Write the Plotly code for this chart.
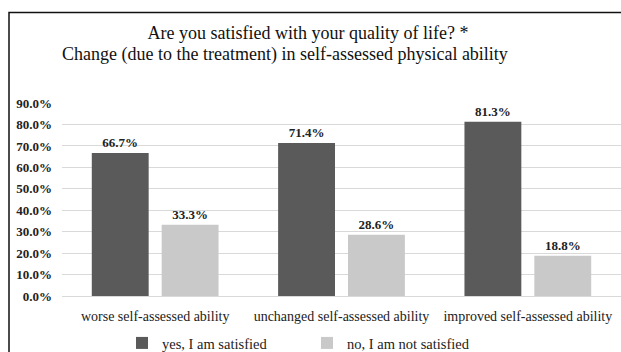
import plotly.graph_objects as go

categories = ["worse self-assessed ability", "unchanged self-assessed ability", "improved self-assessed ability"]
satisfied = [0.667, 0.714, 0.813]
not_satisfied = [0.333, 0.286, 0.188]
series_names = ["yes, I am satisfied", "no, I am not satisfied"]
title_line1 = "Are you satisfied with your quality of life? *"
title_line2 = "Change (due to the treatment) in self-assessed physical ability"
tick_vals = [i / 10 for i in range(10)]

SERIF = "Liberation Serif, Times New Roman, serif"
W, H = 621, 352
L, R, T, B = 62, 0, 103, 56
pw, ph = W - L - R, H - T - B

def px_x(x):
    return (x - L) / pw

def px_y(y):
    return (H - B - y) / ph

label_font = dict(family=SERIF, size=13, color="#222222", weight="bold")

fig = go.Figure()
fig.add_trace(go.Bar(
    x=categories, y=satisfied, name=series_names[0],
    marker=dict(color="#5a5a5a", line=dict(width=0)),
    texttemplate="%{y:.1%}", textposition="outside", cliponaxis=False,
    textfont=label_font,
))
fig.add_trace(go.Bar(
    x=categories, y=not_satisfied, name=series_names[1],
    marker=dict(color="#c9c9c9", line=dict(width=0)),
    texttemplate="%{y:.1%}", textposition="outside", cliponaxis=False,
    textfont=label_font,
))

fig.update_layout(
    width=W, height=H,
    margin=dict(l=L, r=R, t=T, b=B, pad=0, autoexpand=False),
    paper_bgcolor="white", plot_bgcolor="white",
    barmode="group", bargap=0.25, bargroupgap=0.186,
    font=dict(family=SERIF, color="#222222"),
    showlegend=True,
    title=dict(text=title_line1, xref="container", yref="container",
               x=308 / W, xanchor="center", y=1 - 33 / H, yanchor="middle",
               font=dict(family=SERIF, size=18, color="#111111")),
    legend=dict(
        orientation="h", xref="container", yref="container",
        x=122 / W, xanchor="left",
        y=1 - 343 / H, yanchor="middle",
        font=dict(family=SERIF, size=14.5, color="#222222"),
        itemwidth=30, entrywidth=140, bgcolor="rgba(0,0,0,0)",
        traceorder="normal",
    ),
    yaxis=dict(
        range=[0, 0.9005], tickvals=tick_vals, tickformat=".1%",
        showgrid=True, gridcolor="#d9d9d9", gridwidth=1,
        zeroline=True, zerolinecolor="#d9d9d9", zerolinewidth=1,
        showline=False, ticks="", ticklabelstandoff=9,
        tickfont=dict(family=SERIF, size=13, color="#222222", weight="bold"),
    ),
    xaxis=dict(
        showgrid=False, showline=False, ticks="", ticklabelstandoff=10,
        tickfont=dict(family=SERIF, size=14, color="#222222"),
    ),
    annotations=[
        dict(text=title_line2, xref="paper", yref="paper", x=px_x(285), y=px_y(54),
             xanchor="center", yanchor="middle", showarrow=False,
             font=dict(family=SERIF, size=18, color="#111111")),
    ],
    shapes=[
        dict(type="rect", xref="paper", yref="paper",
             x0=px_x(9), x1=px_x(W + 20), y0=px_y(H + 20), y1=px_y(12.5),
             line=dict(color="#111111", width=1.5), fillcolor="rgba(0,0,0,0)"),
    ],
)

fig.write_html("out.html")
